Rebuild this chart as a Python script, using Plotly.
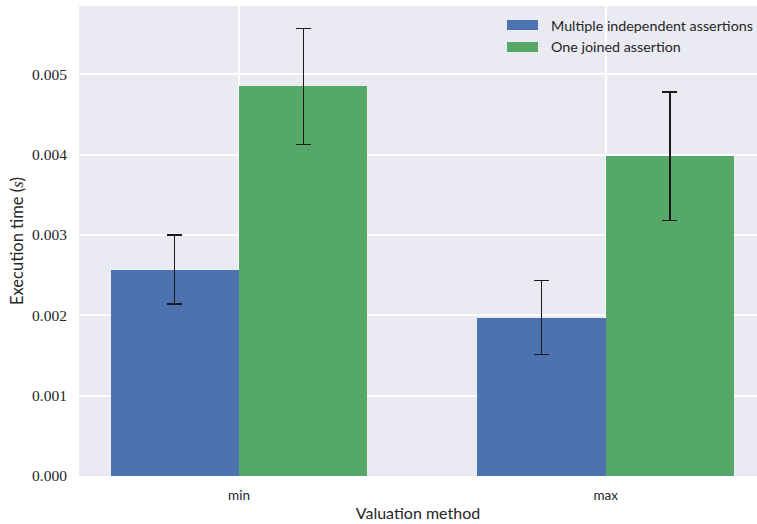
import plotly.graph_objects as go

categories = ["min", "max"]
series_names = ["Multiple independent assertions", "One joined assertion"]
multiple_vals = [0.00257, 0.00197]
multiple_err = [0.00043, 0.00046]
joined_vals = [0.00485, 0.00398]
joined_err = [0.00072, 0.00080]
y_ticks = [0.000, 0.001, 0.002, 0.003, 0.004, 0.005]
y_tick_text = ["0.000", "0.001", "0.002", "0.003", "0.004", "0.005"]

colors = ["#4C72B0", "#55A868"]
bar_w = 0.35
idx = list(range(len(categories)))

SANS = "Lato, DejaVu Sans, sans-serif"
SERIF = "Liberation Serif"
TXT = "#262626"

fig = go.Figure()
for k, (vals, errs, off) in enumerate([(multiple_vals, multiple_err, -bar_w / 2),
                                      (joined_vals, joined_err, bar_w / 2)]):
    fig.add_trace(go.Bar(
        x=[i + off for i in idx], y=vals, width=bar_w,
        name=series_names[k], marker=dict(color=colors[k], line=dict(width=0)),
        error_y=dict(type="data", array=errs, visible=True, color="#1a1a1a",
                     thickness=1.3, width=7.5),
        showlegend=False, hoverinfo="skip",
    ))

# legend drawn as patches + labels (matplotlib style)
for k, name in enumerate(series_names):
    yc = 25 + 22 * k
    fig.add_shape(type="rect", xref="paper", yref="paper",
                  x0=(507 - 79) / 678, x1=(538 - 79) / 678,
                  y0=1 - (yc - 5 - 6) / 470, y1=1 - (yc + 5 - 6) / 470,
                  fillcolor=colors[k], line=dict(width=0), layer="above")
    fig.add_annotation(xref="paper", yref="paper", x=(549 - 79) / 678,
                       y=1 - (yc - 6) / 470, text=name, showarrow=False,
                       xanchor="left", yanchor="middle",
                       font=dict(family=SANS, size=14.3, color=TXT))

fig.update_layout(
    width=757, height=524,
    margin=dict(l=79, r=0, t=6, b=48),
    paper_bgcolor="white", plot_bgcolor="#EAEAF2",
    barmode="overlay", bargap=0,
    font=dict(family=SANS, color=TXT, size=13),
    xaxis=dict(
        range=[-0.4363, 1.4126], tickmode="array", tickvals=idx, ticktext=categories,
        showgrid=True, gridcolor="white", gridwidth=1.5, zeroline=False,
        ticks="outside", ticklen=7, tickcolor="rgba(0,0,0,0)",
        tickfont=dict(family=SANS, size=13.5, color=TXT),
        title=dict(text="Valuation method", standoff=5,
                   font=dict(family=SANS, size=16, color=TXT)),
        showline=False,
    ),
    yaxis=dict(
        range=[0, 0.00585], tickmode="array", tickvals=y_ticks, ticktext=y_tick_text,
        showgrid=True, gridcolor="white", gridwidth=1.5, zeroline=False,
        ticks="outside", ticklen=8, tickcolor="rgba(0,0,0,0)",
        tickfont=dict(family=SERIF, size=15.5, color=TXT),
        title=dict(text="Execution time (<span style='font-family:Liberation Serif'><i>s</i></span>)",
                   standoff=4, font=dict(family=SANS, size=16.5, color=TXT)),
        showline=False,
    ),
)

fig.write_html("out.html", config={"displayModeBar": False},
               post_script="document.body.style.margin='0';document.body.style.overflow='hidden';")
